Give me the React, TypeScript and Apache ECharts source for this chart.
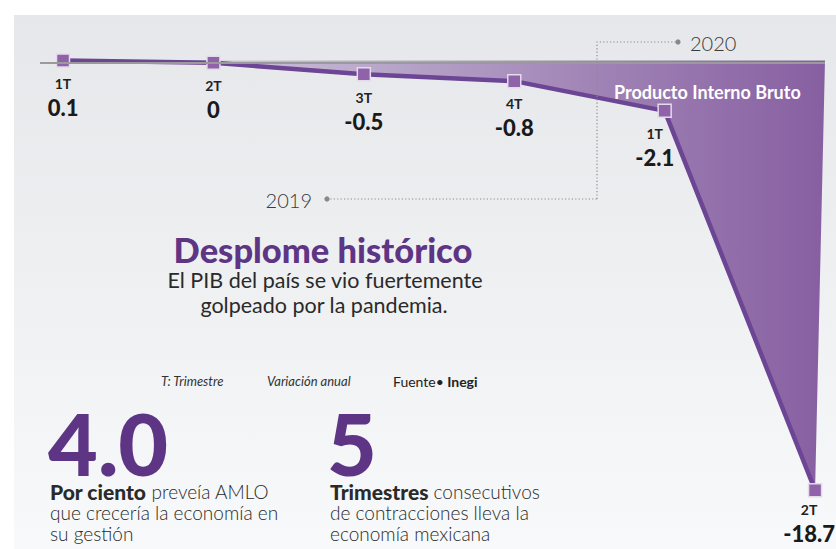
import React, { useEffect, useRef } from "react";
import * as echarts from "echarts";

const quarters = ["1T", "2T", "3T", "4T", "1T", "2T"];
const gdpValues = [0.1, 0, -0.5, -0.8, -2.1, -18.7];
const yearLabels = ["2019", "2020"];
const seriesName = "Producto Interno Bruto";

const FONT = "Lato, 'Open Sans', sans-serif";
const PURPLE = "#5e3585";

export default function App() {
  const ref = useRef<HTMLDivElement>(null);

  useEffect(() => {
    document.body.style.margin = "0";
    const chart = echarts.init(ref.current!, null, { renderer: "svg" });
    const xMin = -0.153;
    const xMax = 5.066;

    const labelOffsets: Record<number, number[]> = { 4: [-10, 0], 5: [-6, -4] };
    const lineData = gdpValues.map((v, i) => ({
      value: [i, v],
      label: labelOffsets[i] ? { offset: labelOffsets[i] } : undefined,
    }));

    const txt = (text: string, x: number, y: number, font: string, fill: string, align = "left", extra: any = {}) => ({
      type: "text",
      x,
      y,
      z: 20,
      style: {
        text,
        font,
        fill,
        align,
        textAlign: align,
        verticalAlign: "middle",
        textVerticalAlign: "middle",
        ...extra,
      },
    });

    const dotted = { stroke: "#8a8a8a", lineWidth: 1.2, lineDash: [1.2, 2.2], fill: null };
    const boldRich = { fontFamily: FONT, fontSize: 21, fontWeight: 900, color: "#111", lineHeight: 21 };

    chart.setOption({
      animation: false,
      backgroundColor: "#ffffff",
      grid: { left: 40, right: 11, top: 40, height: 480 },
      xAxis: { type: "value", min: xMin, max: xMax, show: false },
      yAxis: { type: "value", min: -20, max: 1, show: false },
      series: [
        {
          type: "custom",
          name: seriesName,
          silent: true,
          clip: false,
          z: 1,
          data: [[0, gdpValues[0]]],
          renderItem: (_p: any, api: any) => {
            const pts = gdpValues.map((v, i) => api.coord([i, v]));
            pts.push(api.coord([xMax, gdpValues[0]]));
            return {
              type: "polygon",
              shape: { points: pts },
              style: {
                fill: new echarts.graphic.LinearGradient(0, 0, 1, 0, [
                  { offset: 0, color: "#e3dee9" },
                  { offset: 0.45, color: "#b5a2c7" },
                  { offset: 1, color: "#875fa1" },
                ]),
              },
            };
          },
        },
        {
          type: "line",
          name: seriesName,
          data: lineData,
          z: 3,
          symbol: "rect",
          symbolSize: 13,
          lineStyle: { color: "#6c4594", width: 4.5 },
          itemStyle: { color: "#8f62a9", borderColor: "#e4dbea", borderWidth: 1.5 },
          label: {
            show: true,
            position: "bottom",
            distance: 5,
            formatter: (p: any) => `{q|${quarters[p.dataIndex]}}\n{v|${gdpValues[p.dataIndex]}}`,
            rich: {
              q: { fontFamily: FONT, fontWeight: "bold", fontSize: 14, color: "#222", lineHeight: 21, align: "center" },
              v: { fontFamily: FONT, fontWeight: 900, fontSize: 22, color: "#1a1a1a", lineHeight: 27, align: "center" },
            },
          },
          markLine: {
            silent: true,
            symbol: "none",
            label: { show: false },
            lineStyle: { color: "#9a9a9a", width: 2, type: "solid" },
            data: [{ yAxis: 0 }],
          },
        },
      ],
      graphic: {
        elements: [
          {
            type: "rect",
            x: 14,
            y: 15,
            z: -10,
            shape: { width: 822, height: 534 },
            style: {
              fill: new echarts.graphic.LinearGradient(0, 0, 0, 1, [
                { offset: 0, color: "#e5e7ea" },
                { offset: 1, color: "#f8f9fa" },
              ]),
            },
          },
          { type: "polyline", z: 5, shape: { points: [[597, 199], [597, 42], [678, 42]] }, style: dotted },
          { type: "line", z: 5, shape: { x1: 327, y1: 199, x2: 597, y2: 199 }, style: dotted },
          { type: "circle", z: 5, shape: { cx: 327, cy: 199, r: 2.6 }, style: { fill: "#888" } },
          { type: "circle", z: 5, shape: { cx: 678, cy: 42, r: 2.6 }, style: { fill: "#888" } },
          txt(yearLabels[1], 690, 43, `300 20px ${FONT}`, "#3a3a3a"),
          txt(yearLabels[0], 312, 200, `300 20px ${FONT}`, "#3a3a3a", "right"),
          txt(seriesName, 614, 92, `bold 18px ${FONT}`, "#ffffff"),
          txt("Desplome histórico", 323, 249, `900 34.5px ${FONT}`, PURPLE, "center"),
          txt("El PIB del país se vio fuertemente", 325, 280, `21.5px ${FONT}`, "#2a2a2a", "center"),
          txt("golpeado por la pandemia.", 324, 305, `21.5px ${FONT}`, "#2a2a2a", "center"),
          txt("T: Trimestre", 161, 381, `italic 13px ${FONT}`, "#333"),
          txt("Variación anual", 267, 381, `italic 13px ${FONT}`, "#333"),
          txt("{n|Fuente}{d|•}{b| Inegi}", 393, 381, `14px ${FONT}`, "#222", "left", {
            rich: {
              n: { fontFamily: FONT, fontSize: 14, color: "#222" },
              d: { fontFamily: FONT, fontSize: 14, color: "#7a4fa0" },
              b: { fontFamily: FONT, fontSize: 14, fontWeight: "bold", color: "#111" },
            },
          }),
          txt("4.0", 48, 442, `900 86px ${FONT}`, PURPLE),
          txt("5", 327, 442, `900 86px ${FONT}`, PURPLE),
          {
            type: "text",
            x: 50,
            y: 481,
            z: 20,
            style: {
              text: "{b|Por ciento} preveía AMLO\nque crecería la economía en\nsu gestión",
              font: `300 19px ${FONT}`,
              fill: "#2a2a2a",
              lineHeight: 21,
              verticalAlign: "top",
              textVerticalAlign: "top",
              rich: { b: boldRich },
            },
          },
          {
            type: "text",
            x: 330,
            y: 481,
            z: 20,
            style: {
              text: "{b|Trimestres} consecutivos\nde contracciones lleva la\neconomía mexicana",
              font: `300 19px ${FONT}`,
              fill: "#2a2a2a",
              lineHeight: 21,
              verticalAlign: "top",
              textVerticalAlign: "top",
              rich: { b: boldRich },
            },
          },
        ],
      },
    });

    return () => chart.dispose();
  }, []);

  return <div ref={ref} style={{ width: 836, height: 549 }} />;
}
